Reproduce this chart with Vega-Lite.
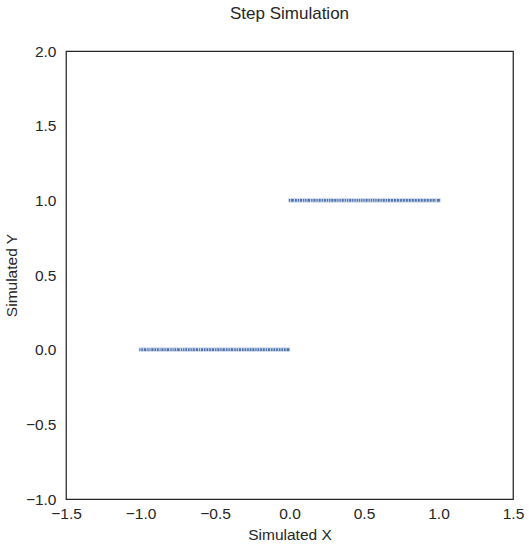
{
  "$schema": "https://vega.github.io/schema/vega-lite/v6.json",
  "autosize": {"type": "none"},
  "width": 447,
  "height": 448,
  "padding": {"left": 66, "top": 51, "right": 16, "bottom": 50},
  "background": "white",
  "title": {
    "text": "Step Simulation",
    "fontSize": 17,
    "font": "Liberation Sans",
    "fontWeight": "normal",
    "color": "#262626",
    "offset": 21,
    "anchor": "middle"
  },
  "config": {
    "font": "Liberation Sans",
    "view": {"stroke": "#262626", "strokeWidth": 1.25},
    "axis": {
      "grid": false,
      "ticks": false,
      "domain": false,
      "labelFlush": false,
      "labelOverlap": false,
      "labelFontSize": 15.5,
      "titleFontSize": 15.5,
      "titleFontWeight": "normal",
      "labelColor": "#262626",
      "titleColor": "#262626",
      "format": ".1f"
    }
  },
  "data": {
    "values": [
      {"x": -0.998, "y": 0}, {"x": -0.985, "y": 0}, {"x": -0.968, "y": 0}, {"x": -0.945, "y": 0},
      {"x": -0.93, "y": 0}, {"x": -0.918, "y": 0}, {"x": -0.897, "y": 0}, {"x": -0.88, "y": 0},
      {"x": -0.862, "y": 0}, {"x": -0.85, "y": 0}, {"x": -0.83, "y": 0}, {"x": -0.815, "y": 0},
      {"x": -0.79, "y": 0}, {"x": -0.775, "y": 0}, {"x": -0.762, "y": 0}, {"x": -0.745, "y": 0},
      {"x": -0.72, "y": 0}, {"x": -0.705, "y": 0}, {"x": -0.69, "y": 0}, {"x": -0.672, "y": 0},
      {"x": -0.655, "y": 0}, {"x": -0.64, "y": 0}, {"x": -0.62, "y": 0}, {"x": -0.598, "y": 0},
      {"x": -0.585, "y": 0}, {"x": -0.565, "y": 0}, {"x": -0.548, "y": 0}, {"x": -0.53, "y": 0},
      {"x": -0.512, "y": 0}, {"x": -0.49, "y": 0}, {"x": -0.475, "y": 0}, {"x": -0.455, "y": 0},
      {"x": -0.44, "y": 0}, {"x": -0.418, "y": 0}, {"x": -0.4, "y": 0}, {"x": -0.385, "y": 0},
      {"x": -0.362, "y": 0}, {"x": -0.345, "y": 0}, {"x": -0.33, "y": 0}, {"x": -0.31, "y": 0},
      {"x": -0.292, "y": 0}, {"x": -0.275, "y": 0}, {"x": -0.258, "y": 0}, {"x": -0.24, "y": 0},
      {"x": -0.22, "y": 0}, {"x": -0.205, "y": 0}, {"x": -0.188, "y": 0}, {"x": -0.17, "y": 0},
      {"x": -0.15, "y": 0}, {"x": -0.135, "y": 0}, {"x": -0.115, "y": 0}, {"x": -0.098, "y": 0},
      {"x": -0.08, "y": 0}, {"x": -0.062, "y": 0}, {"x": -0.045, "y": 0}, {"x": -0.028, "y": 0},
      {"x": -0.01, "y": 0},
      {"x": 0.005, "y": 1}, {"x": 0.02, "y": 1}, {"x": 0.045, "y": 1}, {"x": 0.065, "y": 1},
      {"x": 0.08, "y": 1}, {"x": 0.1, "y": 1}, {"x": 0.115, "y": 1}, {"x": 0.13, "y": 1},
      {"x": 0.155, "y": 1}, {"x": 0.17, "y": 1}, {"x": 0.19, "y": 1}, {"x": 0.205, "y": 1},
      {"x": 0.225, "y": 1}, {"x": 0.24, "y": 1}, {"x": 0.26, "y": 1}, {"x": 0.275, "y": 1},
      {"x": 0.29, "y": 1}, {"x": 0.31, "y": 1}, {"x": 0.33, "y": 1}, {"x": 0.345, "y": 1},
      {"x": 0.36, "y": 1}, {"x": 0.38, "y": 1}, {"x": 0.395, "y": 1}, {"x": 0.41, "y": 1},
      {"x": 0.43, "y": 1}, {"x": 0.445, "y": 1}, {"x": 0.46, "y": 1}, {"x": 0.475, "y": 1},
      {"x": 0.49, "y": 1}, {"x": 0.505, "y": 1}, {"x": 0.52, "y": 1}, {"x": 0.54, "y": 1},
      {"x": 0.555, "y": 1}, {"x": 0.57, "y": 1}, {"x": 0.585, "y": 1}, {"x": 0.6, "y": 1},
      {"x": 0.62, "y": 1}, {"x": 0.635, "y": 1}, {"x": 0.655, "y": 1}, {"x": 0.67, "y": 1},
      {"x": 0.69, "y": 1}, {"x": 0.71, "y": 1}, {"x": 0.73, "y": 1}, {"x": 0.75, "y": 1},
      {"x": 0.77, "y": 1}, {"x": 0.79, "y": 1}, {"x": 0.81, "y": 1}, {"x": 0.83, "y": 1},
      {"x": 0.85, "y": 1}, {"x": 0.87, "y": 1}, {"x": 0.89, "y": 1}, {"x": 0.91, "y": 1},
      {"x": 0.93, "y": 1}, {"x": 0.95, "y": 1}, {"x": 0.97, "y": 1}, {"x": 0.99, "y": 1},
      {"x": 1.0, "y": 1}
    ]
  },
  "mark": {
    "type": "point",
    "shape": "square",
    "filled": true,
    "size": 14,
    "color": "#4c72b0",
    "opacity": 1,
    "stroke": "#e6ebf4",
    "strokeWidth": 0.8
  },
  "encoding": {
    "x": {
      "field": "x",
      "type": "quantitative",
      "title": "Simulated X",
      "scale": {"domain": [-1.5, 1.5], "nice": false, "zero": false},
      "axis": {"values": [-1.5, -1.0, -0.5, 0.0, 0.5, 1.0, 1.5], "labelPadding": 7, "titlePadding": 6}
    },
    "y": {
      "field": "y",
      "type": "quantitative",
      "title": "Simulated Y",
      "scale": {"domain": [-1, 2], "nice": false, "zero": false},
      "axis": {"values": [-1.0, -0.5, 0.0, 0.5, 1.0, 1.5, 2.0], "labelPadding": 10, "titlePadding": 6}
    }
  }
}
